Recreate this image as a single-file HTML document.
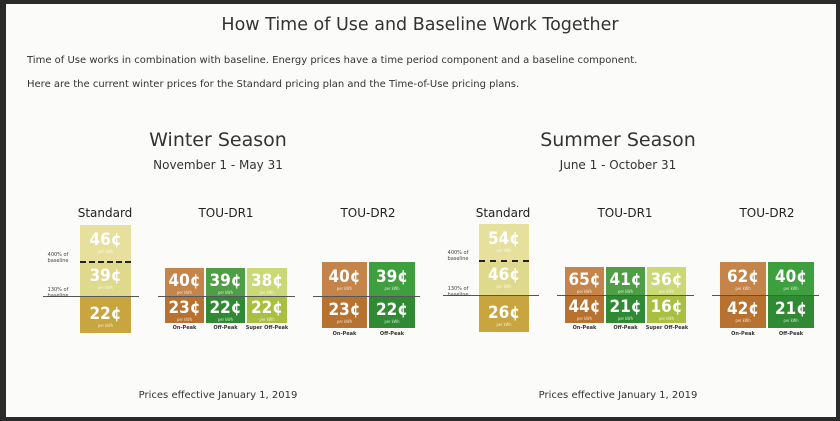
<!DOCTYPE html>
<html><head><meta charset="utf-8"><style>
body{margin:0;width:840px;height:421px;background:#2a2a2a;position:relative;overflow:hidden;font-family:"DejaVu Sans","Liberation Sans",sans-serif;color:#333}
#pg{position:absolute;left:6px;top:4px;right:4px;bottom:4px;background:#fbfbfa}
.a{position:absolute;white-space:nowrap}
.c{text-align:center}
.b{position:absolute;color:#fff;text-align:center;font-family:"DejaVu Sans Condensed","DejaVu Sans",sans-serif;font-weight:bold;font-size:17px;line-height:1}
.b small{display:block;font-size:4px;font-weight:normal;opacity:.8;margin-top:1px}
.ln{position:absolute;height:1px;background:#555}
.dl{position:absolute;height:0;border-top:2px dashed #222}
.lb{position:absolute;font-size:5px;color:#444;text-align:center;width:40px;line-height:6px}
.cap{position:absolute;font-size:5px;color:#333;text-align:center;font-weight:bold}
</style></head><body><div id="pg"></div>
<div class="a c" style="left:0;width:840px;top:15px;font-size:17.5px;color:#333">How Time of Use and Baseline Work Together</div>
<div class="a" style="left:27px;top:55px;font-size:10px">Time of Use works in combination with baseline. Energy prices have a time period component and a baseline component.</div>
<div class="a" style="left:27px;top:79px;font-size:10px">Here are the current winter prices for the Standard pricing plan and the Time-of-Use pricing plans.</div>

<div class="a c" style="left:118px;width:200px;top:129px;font-size:19px">Winter Season</div>
<div class="a c" style="left:118px;width:200px;top:158px;font-size:12px">November 1 - May 31</div>
<div class="a c" style="left:518px;width:200px;top:129px;font-size:19px">Summer Season</div>
<div class="a c" style="left:518px;width:200px;top:158px;font-size:12px">June 1 - October 31</div>

<div class="a c" style="left:65px;width:80px;top:206px;font-size:12px;color:#222">Standard</div>
<div class="a c" style="left:186px;width:80px;top:206px;font-size:12px;color:#222">TOU-DR1</div>
<div class="a c" style="left:328px;width:80px;top:206px;font-size:12px;color:#222">TOU-DR2</div>
<div class="a c" style="left:463px;width:80px;top:206px;font-size:12px;color:#222">Standard</div>
<div class="a c" style="left:585px;width:80px;top:206px;font-size:12px;color:#222">TOU-DR1</div>
<div class="a c" style="left:727px;width:80px;top:206px;font-size:12px;color:#222">TOU-DR2</div>

<div class="b" style="left:80px;top:225px;width:51px;height:37px;background:#e6e09c;padding-top:7px;box-sizing:border-box">46¢<small>per kWh</small></div>
<div class="b" style="left:80px;top:262px;width:51px;height:35px;background:#dfd98e;padding-top:6px;box-sizing:border-box">39¢<small>per kWh</small></div>
<div class="b" style="left:80px;top:297px;width:51px;height:36px;background:#c9a53f;padding-top:9px;box-sizing:border-box">22¢<small>per kWh</small></div>
<div class="dl" style="left:80px;top:261px;width:51px"></div>
<div class="ln" style="left:43px;top:296px;width:96px"></div>
<div class="lb" style="left:38px;top:252px">400% of<br>baseline</div>
<div class="lb" style="left:38px;top:287px">130% of<br>baseline</div>

<div class="b" style="left:165px;top:268px;width:39px;height:28px;background:#c4844a;padding-top:5px;box-sizing:border-box">40¢<small>per kWh</small></div>
<div class="b" style="left:206px;top:268px;width:39px;height:28px;background:#4d9e44;padding-top:5px;box-sizing:border-box">39¢<small>per kWh</small></div>
<div class="b" style="left:247px;top:268px;width:40px;height:28px;background:#cbd876;padding-top:5px;box-sizing:border-box">38¢<small>per kWh</small></div>
<div class="b" style="left:165px;top:297px;width:39px;height:26px;background:#b8722f;padding-top:3px;box-sizing:border-box">23¢<small>per kWh</small></div>
<div class="b" style="left:206px;top:297px;width:39px;height:26px;background:#2f8a33;padding-top:3px;box-sizing:border-box">22¢<small>per kWh</small></div>
<div class="b" style="left:247px;top:297px;width:40px;height:26px;background:#a8bf42;padding-top:3px;box-sizing:border-box">22¢<small>per kWh</small></div>
<div class="ln" style="left:158px;top:296px;width:137px"></div>
<div class="cap" style="left:165px;top:325px;width:39px">On-Peak</div>
<div class="cap" style="left:206px;top:325px;width:39px">Off-Peak</div>
<div class="cap" style="left:243px;top:325px;width:48px">Super Off-Peak</div>

<div class="b" style="left:322px;top:262px;width:45px;height:34px;background:#c4844a;padding-top:7px;box-sizing:border-box">40¢<small>per kWh</small></div>
<div class="b" style="left:369px;top:262px;width:46px;height:34px;background:#3e9f3f;padding-top:7px;box-sizing:border-box">39¢<small>per kWh</small></div>
<div class="b" style="left:322px;top:297px;width:45px;height:31px;background:#b8722f;padding-top:5px;box-sizing:border-box">23¢<small>per kWh</small></div>
<div class="b" style="left:369px;top:297px;width:46px;height:31px;background:#2f8a33;padding-top:5px;box-sizing:border-box">22¢<small>per kWh</small></div>
<div class="ln" style="left:313px;top:296px;width:107px"></div>
<div class="cap" style="left:322px;top:331px;width:45px">On-Peak</div>
<div class="cap" style="left:369px;top:331px;width:46px">Off-Peak</div>

<div class="b" style="left:479px;top:224px;width:50px;height:37px;background:#e6e09c;padding-top:7px;box-sizing:border-box">54¢<small>per kWh</small></div>
<div class="b" style="left:479px;top:261px;width:50px;height:35px;background:#dfd98e;padding-top:6px;box-sizing:border-box">46¢<small>per kWh</small></div>
<div class="b" style="left:479px;top:296px;width:50px;height:36px;background:#c9a53f;padding-top:9px;box-sizing:border-box">26¢<small>per kWh</small></div>
<div class="dl" style="left:479px;top:260px;width:50px"></div>
<div class="ln" style="left:443px;top:295px;width:96px"></div>
<div class="lb" style="left:438px;top:250px">400% of<br>baseline</div>
<div class="lb" style="left:438px;top:286px">130% of<br>baseline</div>

<div class="b" style="left:565px;top:267px;width:39px;height:28px;background:#c4844a;padding-top:5px;box-sizing:border-box">65¢<small>per kWh</small></div>
<div class="b" style="left:606px;top:267px;width:39px;height:28px;background:#4d9e44;padding-top:5px;box-sizing:border-box">41¢<small>per kWh</small></div>
<div class="b" style="left:647px;top:267px;width:39px;height:28px;background:#cbd876;padding-top:5px;box-sizing:border-box">36¢<small>per kWh</small></div>
<div class="b" style="left:565px;top:296px;width:39px;height:27px;background:#b8722f;padding-top:3px;box-sizing:border-box">44¢<small>per kWh</small></div>
<div class="b" style="left:606px;top:296px;width:39px;height:27px;background:#2f8a33;padding-top:3px;box-sizing:border-box">21¢<small>per kWh</small></div>
<div class="b" style="left:647px;top:296px;width:39px;height:27px;background:#a8bf42;padding-top:3px;box-sizing:border-box">16¢<small>per kWh</small></div>
<div class="ln" style="left:557px;top:295px;width:137px"></div>
<div class="cap" style="left:565px;top:325px;width:39px">On-Peak</div>
<div class="cap" style="left:606px;top:325px;width:39px">Off-Peak</div>
<div class="cap" style="left:643px;top:325px;width:48px">Super Off-Peak</div>

<div class="b" style="left:720px;top:262px;width:46px;height:33px;background:#c4844a;padding-top:7px;box-sizing:border-box">62¢<small>per kWh</small></div>
<div class="b" style="left:768px;top:262px;width:46px;height:33px;background:#3e9f3f;padding-top:7px;box-sizing:border-box">40¢<small>per kWh</small></div>
<div class="b" style="left:720px;top:296px;width:46px;height:32px;background:#b8722f;padding-top:5px;box-sizing:border-box">42¢<small>per kWh</small></div>
<div class="b" style="left:768px;top:296px;width:46px;height:32px;background:#2f8a33;padding-top:5px;box-sizing:border-box">21¢<small>per kWh</small></div>
<div class="ln" style="left:712px;top:295px;width:107px"></div>
<div class="cap" style="left:720px;top:331px;width:46px">On-Peak</div>
<div class="cap" style="left:768px;top:331px;width:46px">Off-Peak</div>

<div class="a c" style="left:118px;width:200px;top:390px;font-size:10px">Prices effective January 1, 2019</div>
<div class="a c" style="left:518px;width:200px;top:390px;font-size:10px">Prices effective January 1, 2019</div>
</body></html>
